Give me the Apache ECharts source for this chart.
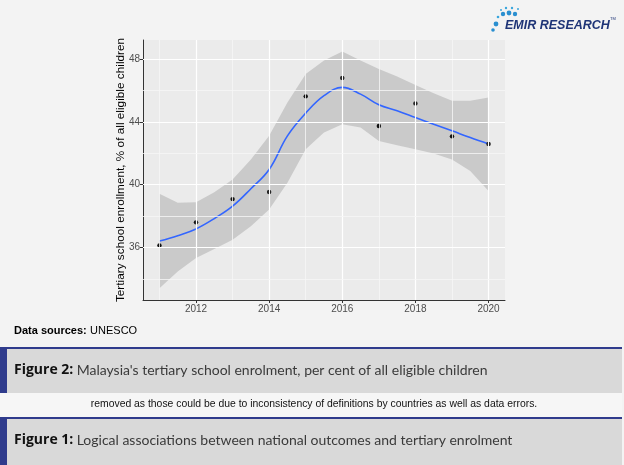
<!DOCTYPE html>
<html>
<head>
<meta charset="utf-8">
<script src="https://cdn.jsdelivr.net/npm/echarts@6/dist/echarts.min.js"></script>
<style>
html,body{margin:0;padding:0;background:#f3f3f3;}
#c{width:624px;height:465px;}
</style>
</head>
<body>
<div id="c"></div>
<script>
// Observed data points
const years = [2011, 2012, 2013, 2014, 2015, 2016, 2017, 2018, 2019, 2020];
const enrolment = [36.13, 37.6, 39.08, 39.53, 45.63, 46.8, 43.74, 45.18, 43.08, 42.59];
// Loess smoothing curve samples (half-year steps)
const smoothX = [2011, 2011.5, 2012, 2012.5, 2013, 2013.5, 2014, 2014.5, 2015, 2015.5, 2016, 2016.5, 2017, 2017.5, 2018, 2018.5, 2019, 2019.5, 2020];
const smoothY = [36.41, 36.75, 37.18, 37.84, 38.63, 39.74, 40.97, 43.11, 44.56, 45.67, 46.2, 45.77, 45.09, 44.71, 44.28, 43.85, 43.43, 43.0, 42.59];
const upperY = [39.42, 38.84, 38.88, 39.52, 40.33, 41.61, 43.11, 45.24, 47.05, 47.91, 48.48, 47.91, 47.37, 46.9, 46.35, 45.82, 45.35, 45.35, 45.56];
const lowerY = [33.4, 34.47, 35.32, 35.9, 36.49, 37.35, 38.41, 40.12, 42.25, 43.32, 43.85, 43.64, 42.79, 42.51, 42.25, 41.98, 41.61, 40.87, 39.59];
// Axis ticks
const xTicks = [2012, 2014, 2016, 2018, 2020];
const xMinor = [2011, 2013, 2015, 2017, 2019];
const yTicks = [36, 40, 44, 48];
const yMinor = [34, 38, 42, 46];

const chart = echarts.init(document.getElementById('c'));

const gridLines = [];
xTicks.forEach(v => gridLines.push({xAxis: v, lineStyle: {color: '#ffffff', width: 1.2, type: 'solid'}}));
xMinor.forEach(v => gridLines.push({xAxis: v, lineStyle: {color: '#f6f6f6', width: 0.8, type: 'solid'}}));
yTicks.forEach(v => gridLines.push({yAxis: v, lineStyle: {color: '#ffffff', width: 1.2, type: 'solid'}}));
yMinor.forEach(v => gridLines.push({yAxis: v, lineStyle: {color: '#f6f6f6', width: 0.8, type: 'solid'}}));

const option = {
  backgroundColor: '#f3f3f3',
  animation: false,
  grid: {left: 143, top: 40, width: 362, height: 260, show: true, backgroundColor: '#ebebeb', borderWidth: 0},
  xAxis: {
    type: 'value', min: 2010.55, max: 2020.45,
    axisLine: {show: true, onZero: false, lineStyle: {color: '#333', width: 1}},
    axisTick: {show: true, length: 3, customValues: xTicks, lineStyle: {color: '#333'}},
    axisLabel: {customValues: xTicks, formatter: v => String(v), color: '#4d4d4d', fontSize: 10, fontFamily: 'Liberation Sans', margin: 4},
    splitLine: {show: false}
  },
  yAxis: {
    type: 'value', min: 32.65, max: 49.22,
    name: 'Tertiary school enrollment, % of all eligible children',
    nameLocation: 'middle', nameRotate: 90, nameGap: 16, nameMoveOverlap: false,
    nameTextStyle: {color: '#000', fontSize: 11.8, fontFamily: 'Liberation Sans'},
    axisLine: {show: true, onZero: false, lineStyle: {color: '#333', width: 1}},
    axisTick: {show: true, length: 3, customValues: yTicks, lineStyle: {color: '#333'}},
    axisLabel: {customValues: yTicks, formatter: v => String(v), color: '#4d4d4d', fontSize: 10, fontFamily: 'Liberation Sans', margin: 3},
    splitLine: {show: false}
  },
  series: [
    {
      type: 'line', data: [[2011, 36]], showSymbol: false, lineStyle: {opacity: 0}, z: 1, silent: true,
      markLine: {silent: true, symbol: 'none', label: {show: false}, data: gridLines, animation: false}
    },
    {
      type: 'custom', z: 2, silent: true,
      data: [[0]],
      renderItem: function (params, api) {
        const pts = [];
        for (let i = 0; i < smoothX.length; i++) pts.push(api.coord([smoothX[i], upperY[i]]));
        for (let i = smoothX.length - 1; i >= 0; i--) pts.push(api.coord([smoothX[i], lowerY[i]]));
        return {type: 'polygon', shape: {points: pts}, style: {fill: 'rgba(153,153,153,0.4)'}};
      }
    },
    {
      type: 'line', z: 3, data: smoothX.map((x, i) => [x, smoothY[i]]), smooth: 0.4, showSymbol: false,
      lineStyle: {color: '#3366ff', width: 1.6}
    },
    {
      type: 'custom', z: 4, silent: true,
      data: years.map((x, i) => [x, enrolment[i]]),
      renderItem: function (params, api) {
        const p = api.coord([api.value(0), api.value(1)]);
        return {type: 'circle', shape: {cx: p[0], cy: p[1], r: 2.2}, style: {fill: '#111', stroke: null}};
      }
    }
  ],
  graphic: [
    // Data sources
    {type: 'text', left: 14, top: 325, style: {rich: {b: {fontWeight: 'bold', fontSize: 11, fontFamily: 'Liberation Sans', fill: '#000'}, n: {fontSize: 11, fontFamily: 'Liberation Sans', fill: '#000'}}, text: '{b|Data sources:} {n|UNESCO}'}},
    // Figure 2 box
    {type: 'rect', shape: {x: 0, y: 347, width: 622, height: 46}, style: {fill: '#d9d9d9'}},
    {type: 'rect', shape: {x: 0, y: 347, width: 622, height: 2}, style: {fill: '#2f3b8c'}},
    {type: 'rect', shape: {x: 0, y: 347, width: 7, height: 46}, style: {fill: '#2f3b8c'}},
    {type: 'text', left: 14, top: 363, style: {rich: {b: {fontWeight: 'bold', fontSize: 14, fontFamily: 'Open Sans', fill: '#111'}, n: {fontSize: 14, fontFamily: 'Lato', fill: '#3a3a3a'}}, text: "{b|Figure 2:} {n|Malaysia's tertiary school enrolment, per cent of all eligible children}"}},
    // middle strip
    {type: 'rect', shape: {x: 0, y: 393, width: 622, height: 24}, style: {fill: '#f6f6f6'}},
    {type: 'text', x: 314, y: 404, style: {text: 'removed as those could be due to inconsistency of definitions by countries as well as data errors.', fontSize: 10.4, fontFamily: 'Liberation Sans', fill: '#111', align: 'center', verticalAlign: 'middle'}},
    // Figure 1 box
    {type: 'rect', shape: {x: 0, y: 417, width: 622, height: 48}, style: {fill: '#d9d9d9'}},
    {type: 'rect', shape: {x: 0, y: 417, width: 622, height: 2}, style: {fill: '#2f3b8c'}},
    {type: 'rect', shape: {x: 0, y: 417, width: 7, height: 48}, style: {fill: '#2f3b8c'}},
    {type: 'text', left: 14, top: 433, style: {rich: {b: {fontWeight: 'bold', fontSize: 14, fontFamily: 'Open Sans', fill: '#111'}, n: {fontSize: 14, fontFamily: 'Lato', fill: '#3a3a3a'}}, text: '{b|Figure 1:} {n|Logical associations between national outcomes and tertiary enrolment}'}},
    // Logo
    {type: 'text', left: 505, top: 19, style: {text: 'EMIR RESEARCH', fontSize: 12.5, fontWeight: 'bold', fontStyle: 'italic', fontFamily: 'Liberation Sans', fill: '#1f3577'}},
    {type: 'text', left: 610, top: 17, style: {text: 'TM', fontSize: 4, fontFamily: 'Liberation Sans', fill: '#1f3577'}},
    {type: 'circle', shape: {cx: 496, cy: 24, r: 2.4}, style: {fill: '#2a8fd0'}},
    {type: 'circle', shape: {cx: 493, cy: 30, r: 1.8}, style: {fill: '#2a8fd0'}},
    {type: 'circle', shape: {cx: 498, cy: 17, r: 1.3}, style: {fill: '#3aa6dd'}},
    {type: 'circle', shape: {cx: 503, cy: 14, r: 2.2}, style: {fill: '#2a8fd0'}},
    {type: 'circle', shape: {cx: 509, cy: 13, r: 2.4}, style: {fill: '#2a8fd0'}},
    {type: 'circle', shape: {cx: 515, cy: 14, r: 2.2}, style: {fill: '#2a8fd0'}},
    {type: 'circle', shape: {cx: 501, cy: 10, r: 1.0}, style: {fill: '#3aa6dd'}},
    {type: 'circle', shape: {cx: 506, cy: 8, r: 1.2}, style: {fill: '#3aa6dd'}},
    {type: 'circle', shape: {cx: 512, cy: 8, r: 1.2}, style: {fill: '#3aa6dd'}},
    {type: 'circle', shape: {cx: 518, cy: 9, r: 1.0}, style: {fill: '#3aa6dd'}}
  ]
};
chart.setOption(option);
</script>
</body>
</html>
